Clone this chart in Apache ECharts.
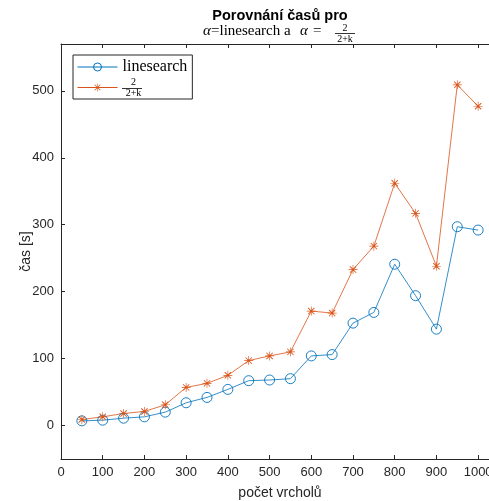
<!DOCTYPE html>
<html>
<head>
<meta charset="UTF-8">
<title>Porovnání časů</title>
<script src="https://cdn.jsdelivr.net/npm/echarts@6/dist/echarts.min.js"></script>
<style>
  html, body { margin: 0; padding: 0; background: #fff; }
  #graf { width: 489px; height: 501px; }
</style>
</head>
<body>
<div id="graf"></div>
<script>
// pocet vrcholu
var vrcholy = [50, 100, 150, 200, 250, 300, 350, 400, 450, 500, 550, 600, 650, 700, 750, 800, 850, 900, 950, 1000];
// cas [s] pro alpha = linesearch
var casLinesearch = [7, 8, 11, 13, 20, 34, 42, 54, 67, 68, 70, 104, 106, 153, 169, 241, 194, 144, 297, 292];
// cas [s] pro alpha = 2/(2+k)
var casKrok = [9, 13, 18, 21, 31, 57, 63, 75, 97, 104, 110, 171, 168, 233, 268, 362, 317, 238, 509, 477];
var xTicks = [0, 100, 200, 300, 400, 500, 600, 700, 800, 900, 1000];
var yTicks = [0, 100, 200, 300, 400, 500];

var modra = '#0072BD';
var oranzova = '#D95319';
var seda = '#262626';
var hvezda = 'path://M9.3,0L10.7,0L10.7,20L9.3,20ZM0,9.3L20,9.3L20,10.7L0,10.7ZM2.3,3.7L3.7,2.3L17.7,16.3L16.3,17.7ZM16.3,2.3L17.7,3.7L3.7,17.7L2.3,16.3Z';

function zip(xs, ys) {
  var out = [];
  for (var i = 0; i < xs.length; i++) out.push([xs[i], ys[i]]);
  return out;
}

var chart = echarts.init(document.getElementById('graf'));
chart.setOption({
  animation: false,
  textStyle: { fontFamily: 'Liberation Sans, Arial, sans-serif', color: seda },
  title: {
    text: 'Porovnání časů pro',
    left: 275,
    textAlign: 'center',
    top: 3,
    textStyle: { fontSize: 14.5, fontWeight: 'bold', color: '#000', fontFamily: 'Liberation Sans, Arial, sans-serif' }
  },
  grid: { left: 61, top: 44, width: 438, height: 415, outerBoundsMode: 'none', containLabel: false },
  legend: {
    orient: 'vertical',
    left: 73,
    top: 55,
    padding: [4, 5, 1, 4],
    itemGap: 2,
    itemWidth: 40,
    itemHeight: 10,
    backgroundColor: '#fff',
    borderColor: seda,
    borderWidth: 1,
    borderRadius: 0,
    itemStyle: { borderWidth: 1 },
    lineStyle: { width: 1 },
    data: ['linesearch', '2/(2+k)'],
    formatter: function (name) {
      if (name === 'linesearch') return '{t|linesearch}';
      return '{n|2}\n{d|2+k}';
    },
    textStyle: {
      rich: {
        t: { fontFamily: 'Liberation Serif, serif', fontSize: 16, color: '#000', lineHeight: 20 },
        n: { fontFamily: 'Liberation Serif, serif', fontSize: 10, color: '#000', lineHeight: 11, align: 'center', width: 22 },
        d: { fontFamily: 'Liberation Serif, serif', fontSize: 10, color: '#000', lineHeight: 11, align: 'center', width: 22 }
      }
    }
  },
  xAxis: [{
    type: 'value',
    min: 0,
    max: 1050,
    name: 'počet vrcholů',
    nameLocation: 'middle',
    nameGap: 27,
    nameTextStyle: { fontSize: 14, color: seda },
    axisLine: { show: true, onZero: false, lineStyle: { color: seda, width: 1 } },
    axisTick: { show: true, inside: true, length: 4, customValues: xTicks, lineStyle: { color: seda } },
    axisLabel: { customValues: xTicks, fontSize: 13, color: seda, margin: 7, formatter: function (v) { return String(v); } },
    splitLine: { show: false }
  }, {
    type: 'value',
    position: 'top',
    min: 0,
    max: 1050,
    axisLine: { show: true, onZero: false, lineStyle: { color: seda, width: 1 } },
    axisTick: { show: true, inside: true, length: 4, customValues: xTicks, lineStyle: { color: seda } },
    axisLabel: { show: false },
    splitLine: { show: false }
  }],
  yAxis: [{
    type: 'value',
    min: -50,
    max: 570,
    name: 'čas [s]',
    nameLocation: 'middle',
    nameGap: 28,
    nameMoveOverlap: false,
    nameRotate: 90,
    nameTextStyle: { fontSize: 14, color: seda },
    axisLine: { show: true, onZero: false, lineStyle: { color: seda, width: 1 } },
    axisTick: { show: true, inside: true, length: 4, customValues: yTicks, lineStyle: { color: seda } },
    axisLabel: { customValues: yTicks, fontSize: 13, color: seda, margin: 7, formatter: function (v) { return String(v); } },
    splitLine: { show: false }
  }],
  series: [{
    name: 'linesearch',
    type: 'line',
    data: zip(vrcholy, casLinesearch),
    symbol: 'circle',
    symbolSize: 10,
    color: modra,
    lineStyle: { color: modra, width: 0.8 },
    itemStyle: { color: 'rgba(255,255,255,0)', borderColor: modra, borderWidth: 0.9 }
  }, {
    name: '2/(2+k)',
    type: 'line',
    data: zip(vrcholy, casKrok),
    symbol: hvezda,
    symbolSize: 9,
    color: oranzova,
    lineStyle: { color: oranzova, width: 0.8 },
    itemStyle: { color: oranzova }
  }],
  graphic: [
    // podtitulek s LaTeX zlomkem
    { type: 'text', x: 203, y: 24, style: { text: 'α', font: 'italic 15px Liberation Serif, serif', fill: '#000' } },
    { type: 'text', x: 211, y: 24, style: { text: '=linesearch a', font: '15px Liberation Serif, serif', fill: '#000' } },
    { type: 'text', x: 300, y: 24, style: { text: 'α', font: 'italic 15px Liberation Serif, serif', fill: '#000' } },
    { type: 'text', x: 313, y: 24, style: { text: '=', font: '15px Liberation Serif, serif', fill: '#000' } },
    { type: 'text', x: 345, y: 23, style: { text: '2', font: '10px Liberation Serif, serif', fill: '#000', align: 'center' } },
    { type: 'line', shape: { x1: 335, y1: 33.5, x2: 355, y2: 33.5 }, style: { stroke: '#000', lineWidth: 0.8 } },
    { type: 'text', x: 345, y: 34, style: { text: '2+k', font: '10px Liberation Serif, serif', fill: '#000', align: 'center' } },
    // zlomkova cara v legende
    { type: 'line', z: 200, shape: { x1: 122, y1: 88.5, x2: 142, y2: 88.5 }, style: { stroke: '#000', lineWidth: 0.8 } }
  ]
});
</script>
</body>
</html>
